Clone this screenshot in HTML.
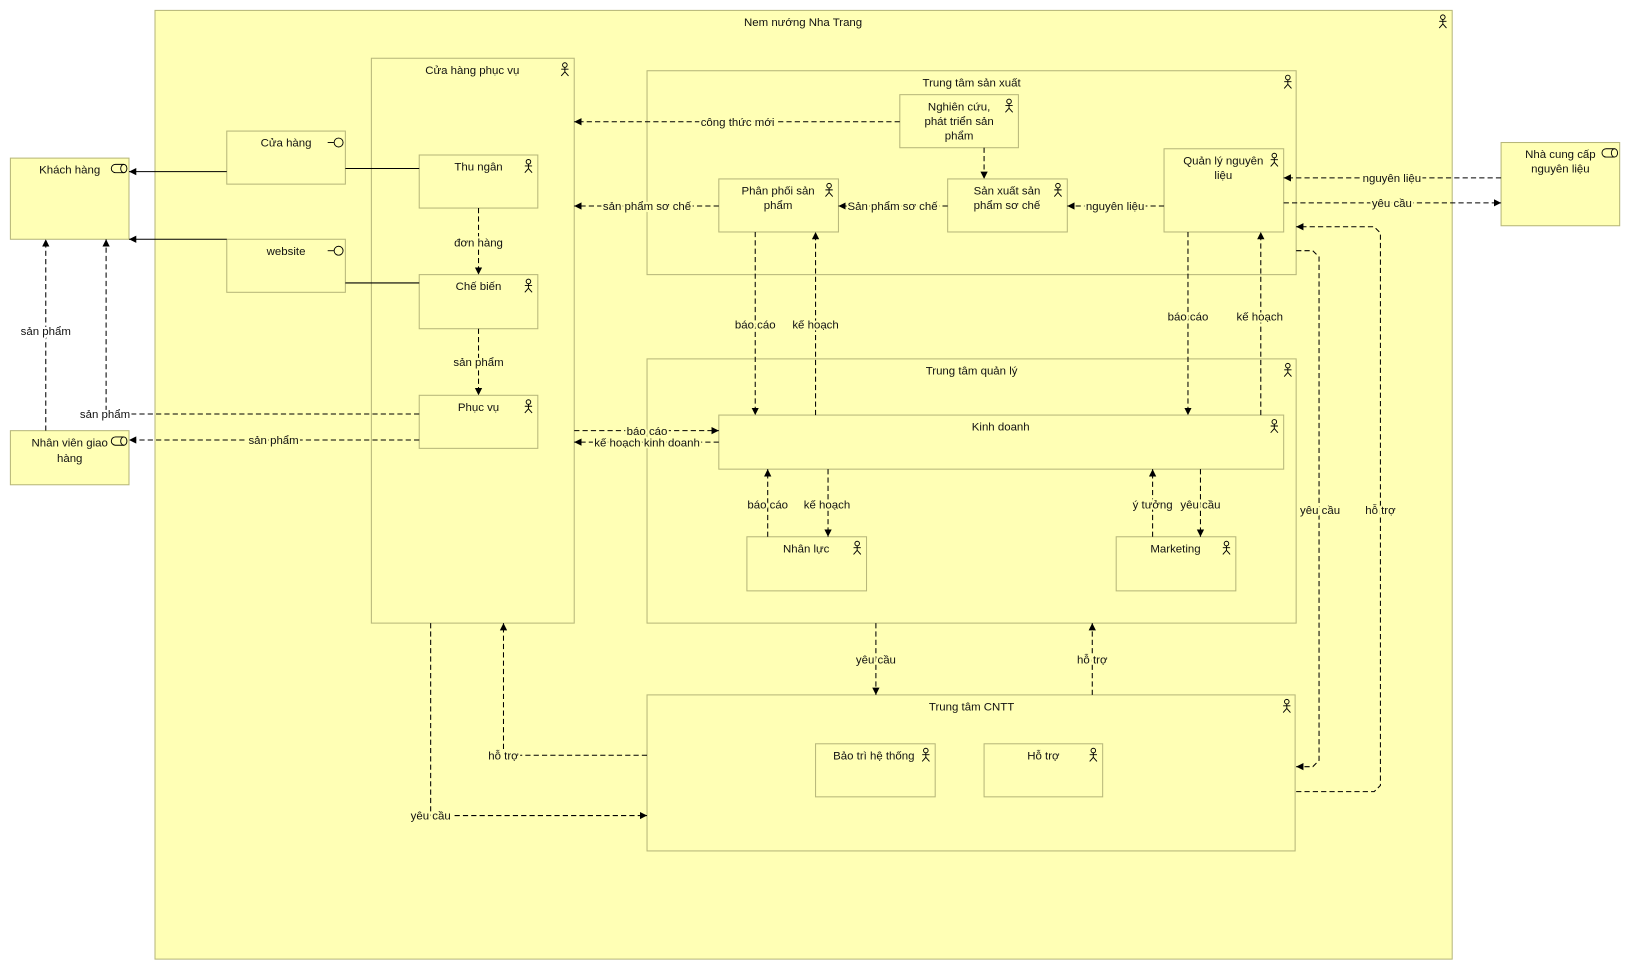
<!DOCTYPE html>
<html><head><meta charset="utf-8"><style>
html,body{margin:0;padding:0;background:#fff;}
svg{display:block;}
text{font-family:"Liberation Sans","DejaVu Sans",sans-serif;font-size:11px;fill:#111;}
.b{fill:#ffffb5;stroke:#b7b77a;stroke-width:1;}
.d{fill:none;stroke:#000;stroke-width:1;stroke-dasharray:5,3;}
.s{fill:none;stroke:#000;stroke-width:1;}
.l{paint-order:stroke;stroke:#ffffb5;stroke-width:4px;stroke-linejoin:round;text-anchor:middle;}
.w{paint-order:stroke;stroke:#fff;stroke-width:4px;stroke-linejoin:round;text-anchor:middle;}
.c{text-anchor:middle;}
</style></head><body>
<svg width="1628" height="969" viewBox="0 0 1565 931.5" preserveAspectRatio="none" xmlns="http://www.w3.org/2000/svg">
<defs>
<marker id="a" markerWidth="8" markerHeight="8" refX="7" refY="4" orient="auto" markerUnits="userSpaceOnUse"><path d="M0,0.5 L7,4 L0,7.5 Z" fill="#000"/></marker>
<symbol id="act" viewBox="0 0 10 14" overflow="visible"><g fill="none" stroke="#000" stroke-width="0.9"><circle cx="5" cy="2.5" r="2.2"/><path d="M5,4.7 V9 M1.5,6.5 H8.5 M5,9 L1.5,13 M5,9 L8.5,13"/></g></symbol>
<symbol id="role" viewBox="0 0 16 10" overflow="visible"><g fill="none" stroke="#000" stroke-width="0.9"><path d="M4,1 H12 M4,9 H12 M4,1 A4,4 0 0 0 4,9"/><ellipse cx="12" cy="5" rx="3" ry="4"/></g></symbol>
<symbol id="ifc" viewBox="0 0 16 10" overflow="visible"><g fill="none" stroke="#000" stroke-width="0.9"><path d="M0,5 H6"/><circle cx="10.5" cy="5" r="4.3"/></g></symbol>
</defs>

<!-- outer -->
<rect class="b" x="149" y="10" width="1247" height="912"/>
<text class="c" x="772" y="25">Nem nướng Nha Trang</text>
<use href="#act" x="1382" y="14" width="10" height="14"/>

<!-- external -->
<rect class="b" x="10" y="152" width="114" height="78"/>
<text class="c" x="67" y="167">Khách hàng</text>
<use href="#role" x="107" y="157" width="16" height="10"/>
<rect class="b" x="10" y="414" width="114" height="52"/>
<text class="c" x="67" y="429">Nhân viên giao</text>
<text class="c" x="67" y="444">hàng</text>
<use href="#role" x="107" y="419" width="16" height="10"/>
<rect class="b" x="1443" y="137" width="114" height="80"/>
<text class="c" x="1500" y="152">Nhà cung cấp</text>
<text class="c" x="1500" y="166">nguyên liệu</text>
<use href="#role" x="1540" y="142" width="16" height="10"/>

<rect class="b" x="218" y="126" width="114" height="51"/>
<text class="c" x="275" y="141">Cửa hàng</text>
<use href="#ifc" x="315" y="132" width="16" height="10"/>
<rect class="b" x="218" y="230" width="114" height="51"/>
<text class="c" x="275" y="245">website</text>
<use href="#ifc" x="315" y="236" width="16" height="10"/>

<!-- CHPV -->
<rect class="b" x="357" y="56" width="195" height="543"/>
<text class="c" x="454" y="71">Cửa hàng phục vụ</text>
<use href="#act" x="538" y="60" width="10" height="14"/>
<rect class="b" x="403" y="149" width="114" height="51"/>
<text class="c" x="460" y="164">Thu ngân</text>
<use href="#act" x="503" y="153" width="10" height="14"/>
<rect class="b" x="403" y="264" width="114" height="52"/>
<text class="c" x="460" y="279">Chế biến</text>
<use href="#act" x="503" y="268" width="10" height="14"/>
<rect class="b" x="403" y="380" width="114" height="51"/>
<text class="c" x="460" y="395">Phục vụ</text>
<use href="#act" x="503" y="384" width="10" height="14"/>

<!-- TTSX -->
<rect class="b" x="622" y="68" width="624" height="196"/>
<text class="c" x="934" y="83">Trung tâm sản xuất</text>
<use href="#act" x="1233" y="72" width="10" height="14"/>
<rect class="b" x="865" y="91" width="114" height="51"/>
<text class="c" x="922" y="106">Nghiên cứu,</text>
<text class="c" x="922" y="120">phát triển sản</text>
<text class="c" x="922" y="134">phẩm</text>
<use href="#act" x="965" y="95" width="10" height="14"/>
<rect class="b" x="691" y="172" width="115" height="51"/>
<text class="c" x="748" y="187">Phân phối sản</text>
<text class="c" x="748" y="201">phẩm</text>
<use href="#act" x="792" y="176" width="10" height="14"/>
<rect class="b" x="911" y="172" width="115" height="51"/>
<text class="c" x="968" y="187">Sản xuất sản</text>
<text class="c" x="968" y="201">phẩm sơ chế</text>
<use href="#act" x="1012" y="176" width="10" height="14"/>
<rect class="b" x="1119" y="143" width="115" height="80"/>
<text class="c" x="1176" y="158">Quản lý nguyên</text>
<text class="c" x="1176" y="172">liệu</text>
<use href="#act" x="1220" y="147" width="10" height="14"/>

<!-- TTQL -->
<rect class="b" x="622" y="345" width="624" height="254"/>
<text class="c" x="934" y="360">Trung tâm quản lý</text>
<use href="#act" x="1233" y="349" width="10" height="14"/>
<rect class="b" x="691" y="399" width="543" height="52"/>
<text class="c" x="962" y="414">Kinh doanh</text>
<use href="#act" x="1220" y="403" width="10" height="14"/>
<rect class="b" x="718" y="516" width="115" height="52"/>
<text class="c" x="775" y="531">Nhân lực</text>
<use href="#act" x="819" y="520" width="10" height="14"/>
<rect class="b" x="1073" y="516" width="115" height="52"/>
<text class="c" x="1130" y="531">Marketing</text>
<use href="#act" x="1174" y="520" width="10" height="14"/>

<!-- CNTT -->
<rect class="b" x="622" y="668" width="623" height="150"/>
<text class="c" x="934" y="683">Trung tâm CNTT</text>
<use href="#act" x="1232" y="672" width="10" height="14"/>
<rect class="b" x="784" y="715" width="115" height="51"/>
<text class="c" x="840" y="730">Bảo trì hệ thống</text>
<use href="#act" x="885" y="719" width="10" height="14"/>
<rect class="b" x="946" y="715" width="114" height="51"/>
<text class="c" x="1003" y="730">Hỗ trợ</text>
<use href="#act" x="1046" y="719" width="10" height="14"/>

<!-- connectors -->
<path class="s" d="M218,165 H124" marker-end="url(#a)"/>
<path class="s" d="M332,162 H403"/>
<path class="s" d="M218,230 H124" marker-end="url(#a)"/>
<path class="s" d="M332,272 H403"/>
<path class="d" d="M460,200 V264" marker-end="url(#a)"/>
<path class="d" d="M460,316 V380" marker-end="url(#a)"/>
<path class="d" d="M403,398 H102 V230" marker-end="url(#a)"/>
<path class="d" d="M403,423 H124" marker-end="url(#a)"/>
<path class="d" d="M44,414 V230" marker-end="url(#a)"/>
<path class="d" d="M865,117 H552" marker-end="url(#a)"/>
<path class="d" d="M691,198 H552" marker-end="url(#a)"/>
<path class="d" d="M946,142 V172" marker-end="url(#a)"/>
<path class="d" d="M911,198 H806" marker-end="url(#a)"/>
<path class="d" d="M1119,198 H1026" marker-end="url(#a)"/>
<path class="d" d="M1443,171 H1234" marker-end="url(#a)"/>
<path class="d" d="M1234,195 H1443" marker-end="url(#a)"/>
<path class="d" d="M726,223 V399" marker-end="url(#a)"/>
<path class="d" d="M784,399 V223" marker-end="url(#a)"/>
<path class="d" d="M1142,223 V399" marker-end="url(#a)"/>
<path class="d" d="M1212,399 V223" marker-end="url(#a)"/>
<path class="d" d="M552,414 H691" marker-end="url(#a)"/>
<path class="d" d="M691,425 H552" marker-end="url(#a)"/>
<path class="d" d="M738,516 V451" marker-end="url(#a)"/>
<path class="d" d="M796,451 V516" marker-end="url(#a)"/>
<path class="d" d="M1108,516 V451" marker-end="url(#a)"/>
<path class="d" d="M1154,451 V516" marker-end="url(#a)"/>
<path class="d" d="M842,599 V668" marker-end="url(#a)"/>
<path class="d" d="M1050,668 V599" marker-end="url(#a)"/>
<path class="d" d="M622,726 H484 V599" marker-end="url(#a)"/>
<path class="d" d="M414,599 V784 H622" marker-end="url(#a)"/>
<path class="d" d="M1246,241 H1262 L1268,247 V731 L1262,737 H1246" marker-end="url(#a)"/>
<path class="d" d="M1246,761 H1321 L1327,755 V224 L1321,218 H1246" marker-end="url(#a)"/>

<!-- labels -->
<text class="l" x="460" y="237">đơn hàng</text>
<text class="l" x="460" y="352">sản phẩm</text>
<text class="w" x="101" y="402">sản phẩm</text>
<text class="l" x="263" y="427">sản phẩm</text>
<text class="w" x="44" y="322">sản phẩm</text>
<text class="l" x="709" y="121">công thức mới</text>
<text class="l" x="622" y="202">sản phẩm sơ chế</text>
<text class="l" x="858" y="202">Sản phẩm sơ chế</text>
<text class="l" x="1072" y="202">nguyên liệu</text>
<text class="l" x="1338" y="175">nguyên liệu</text>
<text class="l" x="1338" y="199">yêu cầu</text>
<text class="l" x="726" y="316">báo cáo</text>
<text class="l" x="784" y="316">kế hoạch</text>
<text class="l" x="1142" y="308">báo cáo</text>
<text class="l" x="1211" y="308">kế hoạch</text>
<text class="l" x="622" y="418">báo cáo</text>
<text class="l" x="622" y="429">kế hoạch kinh doanh</text>
<text class="l" x="738" y="489">báo cáo</text>
<text class="l" x="795" y="489">kế hoạch</text>
<text class="l" x="1108" y="489">ý tưởng</text>
<text class="l" x="1154" y="489">yêu cầu</text>
<text class="l" x="842" y="638">yêu cầu</text>
<text class="l" x="1050" y="638">hỗ trợ</text>
<text class="l" x="484" y="730">hỗ trợ</text>
<text class="l" x="414" y="788">yêu cầu</text>
<text class="l" x="1269" y="494">yêu cầu</text>
<text class="l" x="1327" y="494">hỗ trợ</text>
</svg>
</body></html>
